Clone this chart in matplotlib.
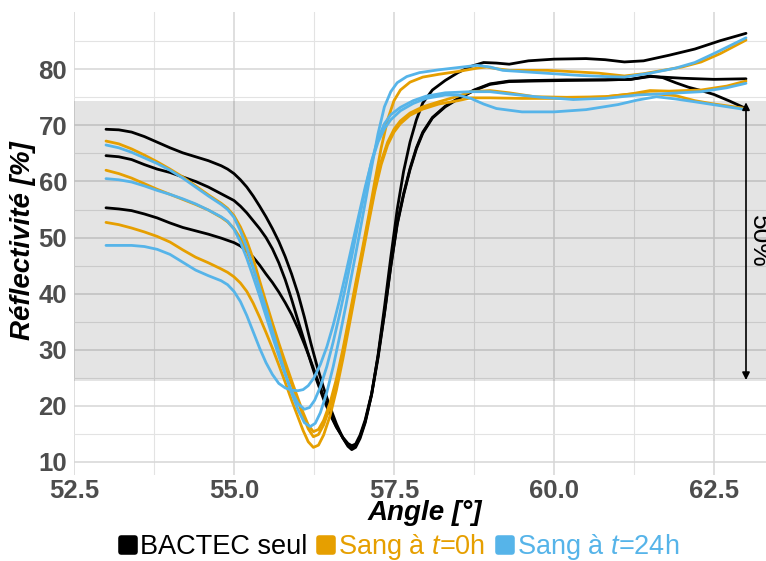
import matplotlib
matplotlib.use("Agg")
import matplotlib.pyplot as plt
from matplotlib.lines import Line2D
from matplotlib.markers import MarkerStyle

plt.rcParams['font.family'] = ['Liberation Sans', 'DejaVu Sans']
plt.rcParams['mathtext.fontset'] = 'custom'
plt.rcParams['mathtext.rm'] = 'Liberation Sans'
plt.rcParams['mathtext.it'] = 'Liberation Sans:italic'

# ---------------- data ----------------
group_names = ["BACTEC seul", "Sang à $t$=0h", "Sang à $t$=24h"]
group_colors = ["#000000", "#E69F00", "#56B4E9"]

# BACTEC seul
bk1_x = [53.0, 53.2, 53.4, 53.6, 53.8, 54.0, 54.2, 54.4, 54.6, 54.8, 54.9, 55.0, 55.1, 55.2, 55.3, 55.4,
         55.5, 55.6, 55.7, 55.8, 55.9, 56.0, 56.1, 56.2, 56.3, 56.4, 56.5, 56.6, 56.7, 56.78, 56.84, 56.9,
         56.97, 57.05, 57.15, 57.25, 57.35, 57.45, 57.55, 57.65, 57.75, 57.85, 57.95, 58.1, 58.3, 58.5,
         58.7, 58.9, 59.1, 59.3, 59.6, 60.0, 60.5, 60.8, 61.1, 61.4, 61.8, 62.2, 62.6, 63.0]
bk1_y = [69.3, 69.2, 68.8, 68.0, 67.0, 66.0, 65.1, 64.4, 63.7, 62.8, 62.2, 61.4, 60.3, 59.0, 57.4, 55.6,
         53.7, 51.6, 49.3, 46.6, 43.5, 40.0, 35.8, 31.2, 27.0, 23.2, 19.8, 16.8, 14.3, 12.8, 12.2, 12.6,
         14.2, 17.0, 22.0, 29.0, 37.5, 46.5, 55.0, 61.8, 67.0, 71.0, 74.0, 76.3, 78.0, 79.4,
         80.5, 81.2, 81.1, 80.9, 81.5, 81.8, 81.9, 81.7, 81.3, 81.5, 82.5, 83.6, 85.1, 86.4]
bk2_x = [53.0, 53.2, 53.4, 53.6, 53.8, 54.0, 54.2, 54.4, 54.6, 54.8, 55.0, 55.1, 55.2, 55.3, 55.4, 55.5,
         55.6, 55.7, 55.8, 55.9, 56.0, 56.1, 56.2, 56.3, 56.4, 56.5, 56.6, 56.7, 56.78, 56.84, 56.9, 56.97,
         57.05, 57.15, 57.25, 57.35, 57.45, 57.55, 57.65, 57.75, 57.85, 57.95, 58.1, 58.3, 58.5, 58.75,
         59.0, 59.3, 59.7, 60.2, 60.8, 61.2, 61.5, 61.7, 62.0, 62.5, 63.0]
bk2_y = [64.6, 64.4, 63.9, 63.0, 62.2, 61.6, 60.8, 60.0, 59.0, 57.8, 56.6, 55.6, 54.4, 53.0, 51.6, 50.0,
         48.0, 45.5, 42.5, 39.0, 35.2, 31.5, 27.8, 24.3, 21.2, 18.5, 16.2, 14.4, 13.3, 12.9, 13.2, 14.8,
         17.5, 22.2, 28.8, 36.5, 45.0, 52.5, 57.8, 62.3, 66.0, 68.8, 71.4, 73.4, 74.8, 76.3,
         77.4, 77.9, 78.0, 78.1, 78.1, 78.2, 78.7, 78.6, 78.4, 78.2, 78.3]
bk3_x = [53.0, 53.2, 53.4, 53.6, 53.8, 54.0, 54.2, 54.4, 54.6, 54.8, 55.0, 55.1, 55.2, 55.3, 55.4, 55.5,
         55.6, 55.7, 55.8, 55.9, 56.0, 56.1, 56.2, 56.3, 56.4, 56.5, 56.6, 56.7, 56.78, 56.84, 56.9, 56.97,
         57.05, 57.15, 57.25, 57.35, 57.45, 57.55, 57.65, 57.75, 57.85, 57.95, 58.1, 58.3, 58.5, 58.75,
         59.0, 59.3, 59.7, 60.2, 60.8, 61.2, 61.5, 61.7, 61.9, 62.1, 62.3, 62.5, 62.75, 63.0]
bk3_y = [55.3, 55.1, 54.8, 54.2, 53.5, 52.6, 51.8, 51.2, 50.6, 49.9, 49.1, 48.5, 47.6, 46.5, 45.1, 43.5,
         42.0, 40.3, 38.4, 36.3, 33.8, 31.0, 28.0, 24.8, 21.7, 18.8, 16.3, 14.3, 13.0, 12.5, 12.9, 14.5,
         17.2, 22.0, 28.5, 36.3, 44.8, 52.3, 57.6, 62.1, 65.8, 68.6, 71.3, 73.3, 74.7, 76.2,
         77.3, 77.8, 77.9, 78.0, 78.1, 78.2, 78.8, 78.5, 77.6, 76.8, 76.2, 75.5, 74.3, 73.0]

# Sang a t=0h
or1_x = [53.0, 53.2, 53.4, 53.6, 53.8, 54.0, 54.2, 54.4, 54.6, 54.8, 54.9, 55.0, 55.1, 55.2, 55.3, 55.4,
         55.5, 55.6, 55.7, 55.8, 55.9, 56.0, 56.08, 56.16, 56.24, 56.32, 56.4, 56.5, 56.6, 56.7, 56.8,
         56.9, 57.0, 57.1, 57.2, 57.3, 57.4, 57.5, 57.6, 57.75, 57.95, 58.2, 58.5, 58.8, 58.95, 59.1,
         59.3, 59.9, 60.4, 60.7, 61.1, 61.4, 61.7, 62.0, 62.3, 62.6, 63.0]
or1_y = [67.2, 66.7, 65.8, 64.7, 63.5, 62.2, 60.8, 59.2, 57.6, 56.1, 55.2, 53.9, 51.9, 49.4, 46.2, 42.3,
         38.5, 34.8, 31.2, 27.8, 24.5, 21.3, 18.8, 16.6, 15.4, 15.8, 17.4, 20.5, 24.8, 30.0, 35.8,
         41.8, 47.6, 53.6, 60.0, 66.0, 71.0, 74.4, 76.3, 77.7, 78.6, 79.1, 79.6, 80.2, 80.4, 80.1,
         79.8, 79.8, 79.5, 79.3, 78.8, 79.2, 79.8, 80.4, 81.3, 82.8, 85.2]
or2_x = [53.0, 53.2, 53.4, 53.6, 53.8, 54.0, 54.2, 54.4, 54.6, 54.8, 54.9, 55.0, 55.1, 55.2, 55.3, 55.4,
         55.5, 55.6, 55.7, 55.8, 55.9, 56.0, 56.08, 56.16, 56.24, 56.32, 56.4, 56.5, 56.6, 56.7, 56.8,
         56.9, 57.0, 57.1, 57.2, 57.3, 57.4, 57.5, 57.6, 57.75, 57.95, 58.2, 58.5, 58.7, 59.0, 59.3,
         59.7, 60.2, 60.8, 61.2, 61.5, 61.8, 62.3, 62.7, 63.0]
or2_y = [62.0, 61.4, 60.6, 59.6, 58.6, 57.7, 56.8, 55.9, 54.9, 53.6, 52.8, 51.6, 49.9, 47.6, 44.6, 41.0,
         37.3, 33.8, 30.4, 27.1, 23.9, 20.8, 18.2, 15.9, 14.5, 14.9, 16.6, 19.8, 24.1, 29.4, 35.2,
         41.2, 47.0, 53.0, 58.8, 63.6, 67.0, 69.3, 70.8, 72.2, 73.3, 74.2, 75.2, 76.0, 76.2, 75.8,
         75.1, 75.0, 75.1, 75.6, 76.2, 76.1, 76.3, 77.0, 77.9]
or3_x = [53.0, 53.2, 53.4, 53.6, 53.8, 54.0, 54.2, 54.4, 54.6, 54.8, 54.9, 55.0, 55.1, 55.2, 55.3, 55.4,
         55.5, 55.6, 55.7, 55.8, 55.9, 56.0, 56.08, 56.16, 56.24, 56.32, 56.4, 56.5, 56.6, 56.7, 56.8,
         56.9, 57.0, 57.1, 57.2, 57.3, 57.4, 57.5, 57.6, 57.75, 57.95, 58.2, 58.5, 58.7, 59.0, 59.5,
         60.2, 60.8, 61.3, 61.6, 61.9, 62.2, 62.5, 63.0]
or3_y = [52.7, 52.3, 51.7, 51.0, 50.2, 49.2, 47.8, 46.5, 45.5, 44.4, 43.8, 43.0, 41.9, 40.4, 38.3, 35.8,
         33.1, 30.3, 27.3, 24.2, 21.0, 18.0, 15.6, 13.6, 12.6, 13.0, 14.8, 18.2, 22.8, 28.3, 34.3,
         40.4, 46.4, 52.4, 58.2, 63.0, 66.5, 68.8, 70.3, 71.8, 72.9, 73.8, 74.4, 74.9, 74.9, 74.8,
         74.8, 75.1, 75.7, 75.6, 75.3, 74.4, 73.8, 73.0]

# Sang a t=24h
bl1_x = [53.0, 53.2, 53.4, 53.6, 53.8, 54.0, 54.2, 54.4, 54.6, 54.8, 54.9, 55.0, 55.1, 55.2, 55.3, 55.4,
         55.5, 55.6, 55.7, 55.8, 55.9, 56.0, 56.1, 56.19, 56.27, 56.35, 56.45, 56.55, 56.65, 56.75, 56.85,
         56.95, 57.05, 57.15, 57.25, 57.35, 57.45, 57.55, 57.7, 57.9, 58.2, 58.5, 58.8, 59.0, 59.2,
         59.6, 60.0, 60.4, 60.8, 61.1, 61.5, 61.9, 62.2, 62.5, 63.0]
bl1_y = [66.5, 66.0, 65.2, 64.2, 63.2, 62.0, 60.6, 59.0, 57.4, 55.9, 55.0, 53.6, 51.2, 48.2, 44.7, 41.0,
         37.3, 33.4, 29.6, 25.8, 22.3, 19.3, 17.0, 16.3, 16.9, 18.8, 22.4, 27.0, 32.3, 38.0, 44.0,
         50.0, 56.2, 62.5, 68.5, 73.3, 76.0, 77.6, 78.7, 79.4, 79.9, 80.3, 80.7, 80.4, 79.8,
         79.5, 79.2, 78.9, 78.7, 78.6, 79.3, 80.2, 81.2, 82.8, 85.6]
bl2_x = [53.0, 53.2, 53.4, 53.6, 53.8, 54.0, 54.2, 54.4, 54.6, 54.8, 54.9, 55.0, 55.1, 55.2, 55.3, 55.4,
         55.5, 55.6, 55.7, 55.8, 55.9, 56.0, 56.1, 56.18, 56.26, 56.35, 56.45, 56.55, 56.65, 56.75, 56.85,
         56.95, 57.05, 57.15, 57.25, 57.35, 57.45, 57.6, 57.8, 58.0, 58.3, 58.7, 59.0, 59.3, 59.8,
         60.3, 60.8, 61.3, 61.8, 62.3, 62.7, 63.0]
bl2_y = [60.5, 60.3, 59.9, 59.2, 58.4, 57.7, 56.9, 56.0, 54.9, 53.7, 52.9, 51.5, 49.2, 46.3, 43.0, 39.6,
         36.0, 32.4, 28.9, 25.6, 22.6, 20.4, 19.4, 19.7, 21.0, 23.4, 27.0, 31.4, 36.3, 41.6, 47.2,
         53.0, 58.5, 63.6, 67.6, 70.3, 71.9, 73.2, 74.4, 75.2, 75.8, 76.0, 76.0, 75.6, 75.0,
         74.6, 74.8, 75.4, 75.7, 76.0, 76.7, 77.5]
bl3_x = [53.0, 53.2, 53.4, 53.6, 53.8, 54.0, 54.2, 54.4, 54.6, 54.8, 54.9, 55.0, 55.1, 55.2, 55.3, 55.4,
         55.5, 55.6, 55.7, 55.8, 55.9, 56.0, 56.08, 56.16, 56.25, 56.35, 56.45, 56.55, 56.65, 56.75, 56.85,
         56.95, 57.05, 57.15, 57.25, 57.35, 57.45, 57.6, 57.8, 58.0, 58.3, 58.5, 58.7, 58.9, 59.1,
         59.5, 60.0, 60.5, 61.0, 61.3, 61.6, 61.9, 62.2, 62.6, 63.0]
bl3_y = [48.6, 48.6, 48.6, 48.4, 47.9, 47.0, 45.6, 44.2, 43.2, 42.3, 41.6, 40.4, 38.6, 36.1, 33.2, 30.3,
         27.7, 25.6, 24.0, 23.2, 22.8, 22.7, 22.9, 23.6, 25.0, 27.4, 30.5, 34.4, 38.9, 43.8, 48.9,
         54.0, 59.0, 63.5, 67.0, 69.4, 71.0, 72.6, 73.9, 74.8, 75.4, 75.4, 74.8, 73.8, 73.0,
         72.4, 72.4, 72.8, 73.7, 74.5, 75.1, 74.7, 74.2, 73.5, 72.8]

band_low, band_high = 24.5, 74.3
arrow_x, arrow_top, arrow_bottom = 63.0, 74.1, 24.6
arrow_label = "50%"

# ---------------- figure ----------------
W, H = 766, 561
fig = plt.figure(figsize=(W / 100, H / 100), dpi=100)
x0_px, x1_px = 74, 766
y_top_px, y_bot_px = 12.3, 474.6
ax = fig.add_axes([x0_px / W, 1 - y_bot_px / H, (x1_px - x0_px) / W, (y_bot_px - y_top_px) / H])
ax.set_xlim(52.5, 52.5 + (x1_px - x0_px) / 64.0)
ax.set_ylim(7.75, 90.15)

for s in ax.spines.values():
    s.set_visible(False)
ax.set_axisbelow(True)
ax.set_xticks([52.5, 55.0, 57.5, 60.0, 62.5])
ax.set_xticklabels(["52.5", "55.0", "57.5", "60.0", "62.5"])
ax.set_xticks([53.75, 56.25, 58.75, 61.25], minor=True)
ax.set_yticks([10, 20, 30, 40, 50, 60, 70, 80])
ax.set_yticks([15, 25, 35, 45, 55, 65, 75, 85], minor=True)
ax.grid(which='major', color='#D6D6D6', linewidth=1.1)
ax.grid(which='minor', color='#E3E3E3', linewidth=0.8)
ax.tick_params(which='both', length=0)
ax.tick_params(axis='both', labelsize=18.5, labelcolor='#4D4D4D')
ax.tick_params(axis='y', pad=5)
ax.tick_params(axis='x', pad=3)
for lab in ax.get_xticklabels() + ax.get_yticklabels():
    lab.set_fontweight('bold')

ax.axhspan(band_low, band_high, facecolor='black', alpha=0.105, linewidth=0, zorder=1)

lw = 2.0
groups = [
    [(bk1_x, bk1_y), (bk2_x, bk2_y), (bk3_x, bk3_y)],
    [(or1_x, or1_y), (or2_x, or2_y), (or3_x, or3_y)],
    [(bl1_x, bl1_y), (bl2_x, bl2_y), (bl3_x, bl3_y)],
]
for gi, curves in enumerate(groups):
    for cx, cy in curves:
        ax.plot(cx, cy, color=group_colors[gi], lw=lw, zorder=2 + gi * 0.1,
                solid_joinstyle='round', solid_capstyle='round')

ax.annotate('', xy=(arrow_x, arrow_bottom), xytext=(arrow_x, arrow_top),
            arrowprops=dict(arrowstyle='<|-|>', color='black', lw=1.2,
                            mutation_scale=11, shrinkA=0, shrinkB=0), zorder=5)
ax.text(arrow_x + 0.02, 49.3, arrow_label, rotation=270,
        ha='left', va='center', fontsize=19, color='black')

ax.set_xlabel("Angle [°]", fontsize=20, fontweight='bold', fontstyle='italic')
ax.set_ylabel("Réflectivité [%]", fontsize=20, fontweight='bold', fontstyle='italic')
ax.xaxis.set_label_coords((425 - x0_px) / (x1_px - x0_px), -(513 - y_bot_px) / (y_bot_px - y_top_px))
ax.xaxis.label.set_va('center')
ax.yaxis.set_label_coords((23 - x0_px) / (x1_px - x0_px), (y_bot_px - 241) / (y_bot_px - y_top_px))
ax.yaxis.label.set_va('center')

handles = [Line2D([], [], linestyle='none',
                  marker=MarkerStyle('s', joinstyle='round'), markersize=10,
                  markeredgewidth=4, color=c, mfc=c, mec=c) for c in group_colors]
leg = fig.legend(handles, group_names, loc='center', bbox_to_anchor=(398 / W, 1 - 547 / H),
                 ncol=3, frameon=False, fontsize=19.5, handlelength=0.8, handletextpad=0.05,
                 columnspacing=0.3, borderpad=0)
for t, c in zip(leg.get_texts(), group_colors):
    t.set_color(c)

fig.savefig("out.png", dpi=100)
